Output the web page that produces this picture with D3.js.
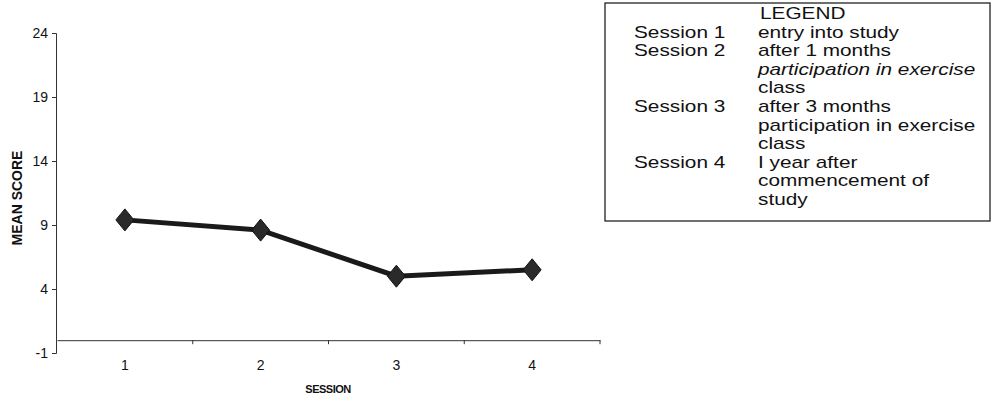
<!DOCTYPE html>
<html>
<head>
<meta charset="utf-8">
<script src="https://cdn.jsdelivr.net/npm/d3@7"></script>
<style>
  body { margin: 0; background: #fff; }
  text { font-family: 'Liberation Sans', Arial, sans-serif; fill: #111; }
</style>
</head>
<body>
<svg id="chart" width="1004" height="406"></svg>
<script>
// chart values
const sessions = ['1', '2', '3', '4']
const meanScores = [9.4, 8.6, 5.0, 5.5]
const yTicks = [-1, 4, 9, 14, 19, 24]

// legend text
const legendTitle = 'LEGEND'
const legendSessions = ['Session 1', 'Session 2', 'Session 3', 'Session 4']
const legendNotes = [
  ['entry into study'],
  ['after 1 months', 'participation in exercise', 'class'],
  ['after 3 months', 'participation in exercise', 'class'],
  ['I year after', 'commencement of', 'study']
]

const svg = d3.select('#chart')

const x = d3.scaleBand()
  .domain(sessions)
  .range([57, 600])

const y = d3.scaleLinear()
  .domain([-1, 24])
  .range([353, 33])

const axisColor = '#333'

// y axis
const yAxis = svg.append('g')
  .attr('transform', 'translate(56,0)')
  .call(d3.axisLeft(y).tickValues(yTicks).tickSize(4).tickPadding(4)
    .tickFormat(d => String(d)))
yAxis.select('.domain').attr('stroke', axisColor)
yAxis.selectAll('.tick line').attr('stroke', axisColor)
yAxis.selectAll('.tick text')
  .style('font-family', "'Liberation Sans', Arial, sans-serif")
  .style('font-size', '14px')
  .attr('fill', '#111')

// x axis sits at zero
const xAxis = svg.append('g')
  .attr('transform', `translate(0,${y(0)})`)
  .call(d3.axisBottom(x).tickSize(0).tickPadding(20))
xAxis.select('.domain').attr('stroke', axisColor)
xAxis.selectAll('.tick text')
  .style('font-family', "'Liberation Sans', Arial, sans-serif")
  .style('font-size', '14px')
  .attr('fill', '#111')

// small ticks between the categories
svg.append('g')
  .selectAll('line')
  .data(sessions.slice(1).concat(['end']))
  .enter()
  .append('line')
  .attr('x1', d => d === 'end' ? x.range()[1] : x(d))
  .attr('x2', d => d === 'end' ? x.range()[1] : x(d))
  .attr('y1', y(0))
  .attr('y2', y(0) + 4)
  .attr('stroke', axisColor)

// axis titles
svg.append('text')
  .attr('transform', 'translate(22,198) rotate(-90)')
  .attr('text-anchor', 'middle')
  .style('font-size', '14px')
  .style('font-weight', 'bold')
  .text('MEAN SCORE')

svg.append('text')
  .attr('x', 328)
  .attr('y', 393)
  .attr('text-anchor', 'middle')
  .style('font-size', '11px')
  .style('font-weight', 'bold')
  .style('letter-spacing', '-0.5px')
  .text('SESSION')

// data line
const cx = (d, i) => x(sessions[i]) + x.bandwidth() / 2
const line = d3.line()
  .x(cx)
  .y(d => y(d))

svg.append('path')
  .datum(meanScores)
  .attr('d', line)
  .attr('fill', 'none')
  .attr('stroke', '#1a1a1a')
  .attr('stroke-width', 5)

svg.append('g')
  .selectAll('path')
  .data(meanScores)
  .enter()
  .append('path')
  .attr('transform', (d, i) => `translate(${cx(d, i)},${y(d)})`)
  .attr('d', 'M0,-11L9,0L0,11L-9,0Z')
  .attr('fill', '#2a2a2a')
  .attr('stroke', '#111')
  .attr('stroke-width', 1)

// legend box
const legend = svg.append('g')
legend.append('rect')
  .attr('x', 605)
  .attr('y', 3)
  .attr('width', 385)
  .attr('height', 218)
  .attr('fill', 'none')
  .attr('stroke', '#222')
  .attr('stroke-width', 1.3)

// scanned text is a bit wider than the font
function legendText (tx, ty, str, italic) {
  legend.append('text')
    .attr('transform', `translate(${tx},${ty}) scale(1.3,1)`)
    .style('font-size', '16px')
    .style('font-style', italic ? 'italic' : 'normal')
    .text(str)
}

legendText(760, 19, legendTitle, false)

var row = 1
legendSessions.forEach(function (s, i) {
  legendText(634, 19 + row * 18.6, s, false)
  legendNotes[i].forEach(function (note, j) {
    legendText(758, 19 + (row + j) * 18.6, note, i === 1 && j === 1)
  })
  row += legendNotes[i].length
})
</script>
</body>
</html>
